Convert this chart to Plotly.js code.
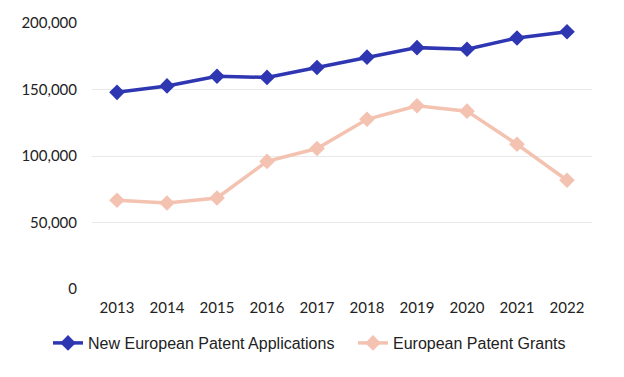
<!DOCTYPE html>
<html>
<head>
<meta charset="utf-8">
<script src="https://cdn.plot.ly/plotly-3.0.1.min.js"></script>
<style>html,body{margin:0;padding:0;background:#fff;}#chart{width:624px;height:377px;}</style>
</head>
<body>
<div id="chart"></div>
<script>
var years = ['2013','2014','2015','2016','2017','2018','2019','2020','2021','2022'];
var applications = [147869,152703,160004,159087,166594,174317,181479,180250,188778,193460];
var grants = [66707,64613,68421,95940,105635,127625,137784,133715,108799,81754];
var yTicks = [0,50000,100000,150000,200000];
var yTickText = ['0','50,000','100,000','150,000','200,000'];

var legendFont = {family: 'Liberation Sans, Arial, sans-serif', size: 16, color: '#222'};
var traces = [
  {x: years, y: applications, name: 'New European Patent Applications', type: 'scatter', mode: 'lines+markers',
   line: {color: '#2E36B2', width: 3.5}, marker: {symbol: 'diamond', size: 12, color: '#2E36B2'}, legend: 'legend'},
  {x: years, y: grants, name: 'European Patent Grants', type: 'scatter', mode: 'lines+markers',
   line: {color: '#F4C2B0', width: 3.5}, marker: {symbol: 'diamond', size: 12, color: '#F4C2B0'}, legend: 'legend2'}
];
var layout = {
  width: 624, height: 377,
  margin: {l: 92, r: 32, t: 23, b: 88},
  paper_bgcolor: '#fff', plot_bgcolor: '#fff',
  showlegend: true,
  legend: {orientation: 'h', x: -0.088, xanchor: 'left', y: -0.203, yanchor: 'middle',
           font: legendFont, itemwidth: 30, bgcolor: 'rgba(0,0,0,0)'},
  legend2: {orientation: 'h', x: 0.522, xanchor: 'left', y: -0.203, yanchor: 'middle',
           font: legendFont, itemwidth: 30, bgcolor: 'rgba(0,0,0,0)'},
  xaxis: {type: 'category', showgrid: false, zeroline: false, showline: false, ticks: '',
          ticklabelstandoff: 8,
          tickfont: {family: 'Lato, sans-serif', size: 15, color: '#222'}, range: [-0.5, 9.5], fixedrange: true},
  yaxis: {range: [0, 200000], tickvals: yTicks, ticktext: yTickText, showgrid: true, gridcolor: '#e9e9e9',
          gridwidth: 1, zeroline: false, showline: false, ticks: '', ticklen: 0, ticklabelstandoff: 14,
          tickfont: {family: 'Lato, sans-serif', size: 15, color: '#222'}, automargin: false},
  hovermode: false
};
Plotly.newPlot('chart', traces, layout, {displayModeBar: false, staticPlot: true});
</script>
</body>
</html>
